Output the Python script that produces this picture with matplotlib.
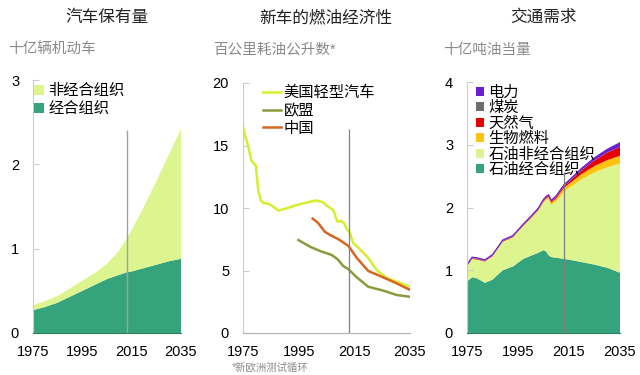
import matplotlib
matplotlib.use("Agg")
import matplotlib.pyplot as plt
import numpy as np

plt.rcParams['font.family'] = ['Liberation Sans', 'Noto Sans CJK SC', 'DejaVu Sans']

# ---- panel 1: car fleet (billion vehicles)
years1 = [1975, 1980, 1985, 1990, 1995, 2000, 2005, 2010, 2013, 2015, 2020, 2025, 2030, 2035]
fleet_oecd = [0.27, 0.31, 0.36, 0.43, 0.50, 0.57, 0.64, 0.69, 0.72, 0.73, 0.77, 0.81, 0.85, 0.88]
fleet_non_oecd = [0.06, 0.07, 0.08, 0.10, 0.12, 0.14, 0.18, 0.29, 0.40, 0.49, 0.73, 0.99, 1.26, 1.54]

# ---- panel 2: fuel economy of new cars (l/100km)
us_years = [1975, 1976, 1976.9, 1978, 1978.7, 1979.6, 1980.5, 1981.4, 1982.3, 1984, 1985.3, 1987.7,
            1990.7, 1993.7, 1995.5, 1999, 2001.5, 2003.9, 2005, 2007.4, 2008.9, 2010.1, 2011.3,
            2012.3, 2013.2, 2014.6, 2017, 2020, 2023, 2026.6, 2031.4, 2035]
us_vals = [16.5, 15.6, 14.9, 13.8, 13.6, 13.4, 11.4, 10.6, 10.4, 10.35, 10.2, 9.8,
           9.97, 10.2, 10.3, 10.5, 10.6, 10.45, 10.2, 9.84, 8.9, 8.98, 8.8,
           8.3, 8.1, 7.2, 6.7, 6.0, 5.04, 4.4, 4.0, 3.7]
eu_years = [1994.9, 1999.1, 2002.7, 2006.9, 2009, 2011, 2012.9, 2015.9, 2020, 2025.4, 2030.2, 2035]
eu_vals = [7.44, 6.9, 6.56, 6.24, 5.9, 5.36, 5.1, 4.45, 3.7, 3.39, 3.04, 2.9]
cn_years = [2000, 2002, 2004.4, 2006.3, 2009.3, 2012.9, 2015.9, 2020, 2025.4, 2030.2, 2035]
cn_vals = [9.15, 8.8, 8.1, 7.84, 7.5, 6.96, 6.0, 4.96, 4.45, 3.97, 3.45]

# ---- panel 3: transport demand (billion toe)
years3 = [1975, 1977, 1979, 1982, 1985, 1989, 1993, 1997, 2000, 2003, 2005, 2006, 2007, 2008,
          2010, 2013, 2015, 2020, 2025, 2030, 2035]
oil_oecd = [0.82, 0.89, 0.87, 0.80, 0.85, 1.00, 1.06, 1.18, 1.23, 1.28, 1.32, 1.30, 1.24, 1.21,
            1.20, 1.18, 1.17, 1.13, 1.09, 1.04, 0.96]
oil_non_oecd = [0.24, 0.29, 0.30, 0.34, 0.37, 0.45, 0.46, 0.52, 0.59, 0.67, 0.76, 0.82, 0.90, 0.83,
                0.90, 1.07, 1.14, 1.32, 1.47, 1.60, 1.74]
biofuel = [0, 0, 0, 0, 0.004, 0.006, 0.007, 0.008, 0.01, 0.012, 0.018, 0.022, 0.028, 0.035,
           0.045, 0.06, 0.065, 0.085, 0.10, 0.115, 0.125]
gas = [0.01, 0.01, 0.01, 0.01, 0.01, 0.01, 0.01, 0.011, 0.012, 0.013, 0.015, 0.016, 0.018, 0.02,
       0.024, 0.03, 0.035, 0.06, 0.09, 0.12, 0.14]
coal = [0.01, 0.009, 0.008, 0.007, 0.006, 0.005, 0.004, 0.003, 0.003, 0.003, 0.003, 0.003, 0.003,
        0.003, 0.003, 0.003, 0.003, 0.003, 0.003, 0.002, 0.002]
electricity = [0.01, 0.01, 0.01, 0.01, 0.01, 0.011, 0.012, 0.012, 0.013, 0.014, 0.015, 0.015,
               0.015, 0.016, 0.017, 0.02, 0.022, 0.03, 0.04, 0.05, 0.065]

xticks = [1975, 1995, 2015, 2035]
OECD_GREEN = '#35a47c'
LIGHT_GREEN = '#ddf58e'
GRAY_TXT = '#8a8a8a'

W, H = 640, 375
def rect(l, r, t, b):
    return [l / W, 1 - b / H, (r - l) / W, (b - t) / H]

fig = plt.figure(figsize=(6.4, 3.75), dpi=100)
ax1 = fig.add_axes(rect(33, 181, 80, 333))
ax2 = fig.add_axes(rect(243, 410, 83, 333))
ax3 = fig.add_axes(rect(467, 620, 82, 333))

def style(ax, ymax, yticks, bottom_col):
    ax.set_xlim(1975, 2035)
    ax.set_ylim(0, ymax)
    ax.set_xticks(xticks)
    ax.set_yticks(yticks)
    for s in ['top', 'right']:
        ax.spines[s].set_visible(False)
    ax.spines['left'].set_color('#cccccc')
    ax.spines['bottom'].set_color(bottom_col)
    ax.tick_params(axis='y', direction='in', length=4, color='#cccccc', pad=10, labelsize=10.5)
    ax.tick_params(axis='x', length=0, pad=9, labelsize=10.5)

# panel 1
ax1.stackplot(years1, fleet_oecd, fleet_non_oecd, colors=[OECD_GREEN, LIGHT_GREEN],
              labels=['经合组织', '非经合组织'])
ax1.vlines(2013, 0, 2.41, color='#a0a0a0', lw=1)
style(ax1, 3, [0, 1, 2, 3], '#2e7d5c')
h, l = ax1.get_legend_handles_labels()
ax1.legend(h[::-1], l[::-1], loc='upper left', bbox_to_anchor=(0.01, 0.985), frameon=False,
           fontsize=11, borderpad=0, borderaxespad=0, handlelength=0.6, handleheight=0.6,
           handletextpad=0.3, labelspacing=0.25)

# panel 2
ax2.plot(us_years, us_vals, color='#d6ee2c', lw=1.8, label='美国轻型汽车')
ax2.plot(eu_years, eu_vals, color='#8c9a3c', lw=1.8, label='欧盟')
ax2.plot(cn_years, cn_vals, color='#d9661f', lw=1.8, label='中国')
ax2.vlines(2013, 0, 16.3, color='#808080', lw=0.9)
style(ax2, 20, [0, 5, 10, 15, 20], '#b0b0b0')
ax2.legend(loc='upper left', bbox_to_anchor=(0.12, 0.99), frameon=False, fontsize=11,
           borderpad=0, borderaxespad=0, handlelength=1.2, handletextpad=0.15, labelspacing=0.25)

# panel 3
ax3.stackplot(years3, oil_oecd, oil_non_oecd, biofuel, gas, coal, electricity,
              colors=[OECD_GREEN, LIGHT_GREEN, '#ffc20e', '#e60000', '#6e6e6e', '#6b1fd1'],
              labels=['石油经合组织', '石油非经合组织', '生物燃料', '天然气', '煤炭', '电力'],
              linewidth=0.3)
top3 = np.sum([oil_oecd, oil_non_oecd, biofuel, gas, coal, electricity], axis=0)
ax3.plot(years3, top3, color='#6b1fd1', lw=0.8)
ax3.vlines(2013, 0, 2.57, color='#808080', lw=0.9)
style(ax3, 4, [0, 1, 2, 3, 4], '#2e7d5c')
h, l = ax3.get_legend_handles_labels()
ax3.legend(h[::-1], l[::-1], loc='upper left', bbox_to_anchor=(0.06, 0.985), frameon=False,
           fontsize=11, borderpad=0, borderaxespad=0, handlelength=0.5, handleheight=0.5,
           handletextpad=0.3, labelspacing=0.08)

# titles and units
for x, t in [(107, '汽车保有量'), (326, '新车的燃油经济性'), (543, '交通需求')]:
    fig.text(x / W, 1 - 17 / H, t, ha='center', va='center', fontsize=12, color='#222222')
for x, t in [(8, '十亿辆机动车'), (213, '百公里耗油公升数*'), (443, '十亿吨油当量')]:
    fig.text(x / W, 1 - 50 / H, t, ha='left', va='center', fontsize=10.5, color=GRAY_TXT)
fig.text(232 / W, 1 - 368 / H, '*新欧洲测试循环', ha='left', va='center', fontsize=7.5, color=GRAY_TXT)

fig.savefig('out.png', dpi=100)
